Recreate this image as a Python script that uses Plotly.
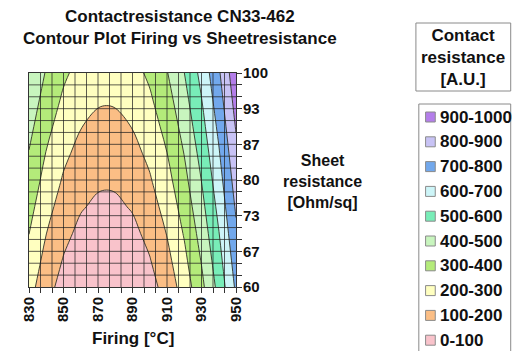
import plotly.graph_objects as go

# ---------------- data ----------------
firing = [830, 840, 850, 860, 870, 875, 880, 890, 900, 910, 920, 930, 940, 950]
sheet_resistance = [60, 65, 70, 75, 80, 85, 90, 95, 100]
contact_resistance = [
    [237, 137, 62, 12, -13, -16, -13, 12, 63, 140, 244, 374, 531, 717],
    [269, 169, 94, 44, 19, 16, 19, 44, 95, 172, 276, 406, 563, 749],
    [301, 201, 126, 76, 51, 48, 51, 76, 127, 204, 308, 438, 595, 781],
    [333, 233, 158, 108, 83, 80, 83, 108, 159, 236, 340, 470, 627, 813],
    [365, 265, 190, 140, 115, 112, 115, 140, 191, 268, 372, 502, 659, 845],
    [396, 296, 221, 171, 146, 143, 146, 171, 222, 299, 403, 533, 690, 876],
    [428, 328, 253, 203, 178, 175, 178, 203, 254, 331, 435, 565, 722, 908],
    [460, 360, 285, 235, 210, 207, 210, 235, 286, 363, 467, 597, 754, 940],
    [492, 392, 317, 267, 242, 239, 242, 267, 318, 395, 499, 629, 786, 972],
]
band_labels = ["0-100", "100-200", "200-300", "300-400", "400-500",
               "500-600", "600-700", "700-800", "800-900", "900-1000"]
band_colors = ["#F9C3CB", "#FBBE85", "#FFFFC0", "#B4EB7A", "#C8F5BE",
               "#78EDB8", "#CDF5F8", "#72A8EC", "#C8C3F5", "#B47EEA"]
x_tick_labels = ["830", "850", "870", "890", "910", "930", "950"]
y_tick_labels = ["60", "67", "73", "80", "87", "93", "100"]

# ---------------- layout helpers ----------------
FONT = "Liberation Sans, Arial, sans-serif"
PAGE_OFF = 8                      # default body margin of the html page
FIG_W, FIG_H = 525 - PAGE_OFF, 351 - PAGE_OFF
L, T, W, H = 22, 73, 214, 214     # plot area in reference pixels
X0, X1 = 830, 950
Y0, Y1 = 60, 100
NCELL = 18


def px(xp):
    return (xp - L) / W


def py(yp):
    return (T + H - yp) / H


x_tick_vals = [float(v) for v in x_tick_labels]
y_tick_vals = [Y0 + i * (Y1 - Y0) / (len(y_tick_labels) - 1) for i in range(len(y_tick_labels))]

nb = len(band_colors)
colorscale = [[i / (nb - 1), c] for i, c in enumerate(band_colors)]

fig = go.Figure()
fig.add_trace(go.Contour(
    x=firing, y=sheet_resistance, z=contact_resistance,
    autocontour=False,
    contours=dict(start=100, end=900, size=100, coloring="fill", showlines=True),
    colorscale=colorscale,
    line=dict(color="rgba(50,50,40,0.9)", width=1),
    showscale=False,
    hoverinfo="skip",
))

shapes = []
grid_line = dict(color="rgba(30,30,30,0.72)", width=1)
for k in range(1, NCELL):
    xv = X0 + k * (X1 - X0) / NCELL
    shapes.append(dict(type="line", xref="x", yref="y", x0=xv, x1=xv, y0=Y0, y1=Y1,
                       line=grid_line, layer="above"))
    yv = Y0 + k * (Y1 - Y0) / NCELL
    shapes.append(dict(type="line", xref="x", yref="y", x0=X0, x1=X1, y0=yv, y1=yv,
                       line=grid_line, layer="above"))

annotations = []
# title
annotations.append(dict(
    text="<b>Contactresistance CN33-462<br>Contour Plot Firing vs Sheetresistance</b>",
    xref="paper", yref="paper", x=px(178), y=py(27.5), xanchor="center", yanchor="middle",
    showarrow=False, font=dict(family=FONT, size=17, color="#111")))
# x title
annotations.append(dict(
    text="<b>Firing [°C]</b>", xref="paper", yref="paper", x=px(129), y=py(338),
    xanchor="center", yanchor="middle", showarrow=False,
    font=dict(family=FONT, size=17, color="#111")))
# y title
annotations.append(dict(
    text="<b>Sheet<br>resistance<br>[Ohm/sq]</b>", xref="paper", yref="paper",
    x=px(325), y=py(181), xanchor="center", yanchor="middle", showarrow=False,
    font=dict(family=FONT, size=16, color="#111")))
# legend title box
shapes.append(dict(type="rect", xref="paper", yref="paper",
                   x0=px(422), x1=px(520), y0=py(23), y1=py(91),
                   line=dict(color="#8a8a8a", width=1), fillcolor="white"))
annotations.append(dict(
    text="<b>Contact<br>resistance<br>[A.U.]</b>", xref="paper", yref="paper",
    x=px(471), y=py(57), xanchor="center", yanchor="middle", showarrow=False,
    font=dict(family=FONT, size=17, color="#111")))
# legend box
shapes.append(dict(type="rect", xref="paper", yref="paper",
                   x0=px(425), x1=px(520), y0=py(104), y1=py(356),
                   line=dict(color="#8a8a8a", width=1), fillcolor="white"))
for i, (lab, col) in enumerate(zip(reversed(band_labels), reversed(band_colors))):
    yc = 117 + 24.8 * i
    shapes.append(dict(type="rect", xref="paper", yref="paper",
                       x0=px(432), x1=px(442), y0=py(yc + 5), y1=py(yc - 5),
                       line=dict(color="#8a8a8a", width=1), fillcolor=col))
    annotations.append(dict(
        text="<b>" + lab + "</b>", xref="paper", yref="paper",
        x=px(445), y=py(yc), xanchor="left", yanchor="middle", showarrow=False,
        font=dict(family=FONT, size=17, color="#111")))

fig.update_layout(
    width=FIG_W, height=FIG_H,
    margin=dict(l=L - PAGE_OFF, r=FIG_W - (L - PAGE_OFF) - W,
                t=T - PAGE_OFF, b=FIG_H - (T - PAGE_OFF) - H, pad=0),
    paper_bgcolor="white", plot_bgcolor="white",
    showlegend=False,
    shapes=shapes, annotations=annotations,
    xaxis=dict(
        range=[X0, X1], tickmode="array", tickvals=x_tick_vals, ticktext=x_tick_labels,
        tickangle=-90, ticks="outside", ticklen=5, tickcolor="#333",
        ticklabelstandoff=-2,
        tickfont=dict(family=FONT, size=15, color="#111", weight="bold"),
        showgrid=False, zeroline=False, showline=True, mirror=True,
        linecolor="#333", linewidth=1,
        minor=dict(tickmode="linear", tick0=X0, dtick=(X1 - X0) / NCELL,
                   ticks="outside", ticklen=5, tickcolor="#333", showgrid=False),
    ),
    yaxis=dict(
        range=[Y0, Y1], side="right", tickmode="array", tickvals=y_tick_vals,
        ticktext=y_tick_labels, ticks="outside", ticklen=5, tickcolor="#333",
        ticklabelstandoff=-2,
        tickfont=dict(family=FONT, size=15, color="#111", weight="bold"),
        showgrid=False, zeroline=False, showline=True, mirror=True,
        linecolor="#333", linewidth=1,
        minor=dict(tickmode="linear", tick0=Y0, dtick=(Y1 - Y0) / NCELL,
                   ticks="outside", ticklen=5, tickcolor="#333", showgrid=False),
    ),
)

fig.write_html("out.html")
